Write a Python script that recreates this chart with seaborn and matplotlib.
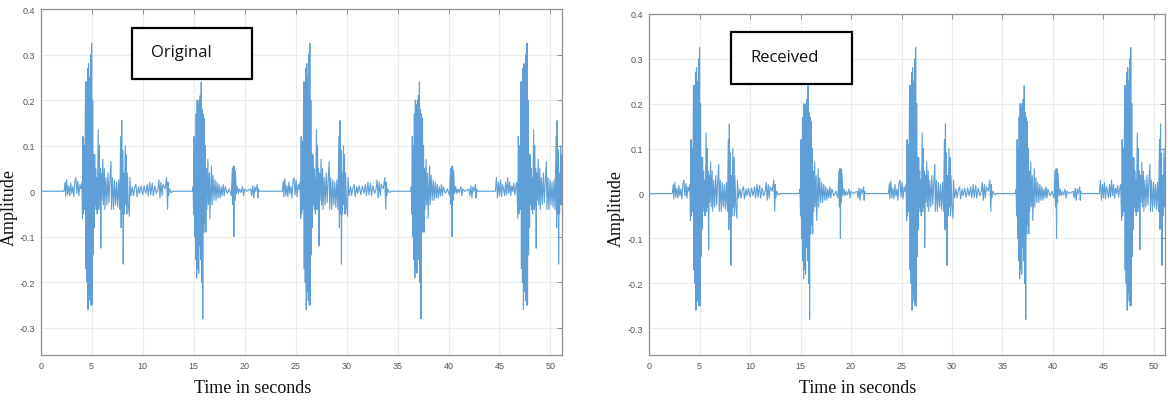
import numpy as np
import pandas as pd
import matplotlib
matplotlib.use("Agg")
import matplotlib.pyplot as plt
from matplotlib.patches import Rectangle
import seaborn as sns

# ---- signal, one list pair per heartbeat ----
beat1_t = [0.0, 2.2,
           2.3, 2.4, 2.45, 2.55, 2.65, 2.75, 2.85, 2.95, 3.05, 3.15, 3.25, 3.35, 3.45, 3.55, 3.65, 3.75, 3.85, 3.95, 4.05,
           4.1, 4.15, 4.2, 4.25, 4.3, 4.35, 4.4, 4.45, 4.5, 4.55, 4.6, 4.65, 4.7, 4.75, 4.8, 4.85, 4.9, 4.95, 5.0, 5.05,
           5.1, 5.15, 5.2, 5.25,
           5.3, 5.35, 5.4, 5.45, 5.5, 5.55, 5.65, 5.7, 5.75, 5.8, 5.85, 5.9, 5.95, 6.0, 6.1, 6.15, 6.25, 6.3, 6.4, 6.5,
           6.6, 6.7, 6.8, 6.9, 6.95, 7.05, 7.15, 7.25, 7.35, 7.45, 7.55, 7.65, 7.75,
           7.85, 7.9, 7.95, 8.0, 8.05, 8.1, 8.15, 8.2, 8.3, 8.35, 8.4, 8.45, 8.5, 8.6, 8.7, 8.75, 8.85,
           9.0, 9.1, 9.2, 9.35, 9.45, 9.6, 9.7, 9.85, 10.0, 10.15, 10.3, 10.45, 10.55, 10.7, 10.8, 10.95, 11.05, 11.2,
           11.35, 11.5, 11.6, 11.7, 11.8, 11.9, 12.0, 12.2, 12.35, 12.45, 12.5, 12.55, 12.65, 12.8, 13.0, 14.9]
beat1_amp = [0.0, 0.0,
             0.0, 0.02, -0.012, 0.025, -0.008, 0.012, -0.01, 0.018, -0.005, 0.01, -0.012, 0.02, 0.03, -0.005, 0.022,
             -0.01, 0.015, 0.005, 0.02,
             -0.06, 0.12, -0.05, 0.1, -0.04, 0.06, 0.24, -0.17, 0.24, -0.2, 0.27, -0.26, 0.28, -0.22, 0.25, -0.24, 0.3,
             -0.25, 0.325, -0.25, 0.2, -0.14, 0.08, -0.08,
             0.08, -0.03, 0.05, -0.04, 0.03, -0.05, 0.135, -0.04, 0.1, -0.03, 0.05, -0.125, 0.04, -0.02, 0.07, -0.03,
             0.05, -0.04, 0.03, -0.03, 0.04, -0.025, 0.03, 0.065, -0.04, 0.03, -0.04, 0.025, -0.03, 0.02, -0.035, 0.025,
             -0.04,
             0.12, -0.08, 0.155, -0.05, 0.09, -0.16, 0.04, -0.05, 0.1, -0.03, 0.08, -0.05, 0.04, -0.03, -0.055, 0.03,
             -0.01,
             0.01, -0.01, 0.005, 0.015, -0.012, 0.01, -0.005, 0.012, -0.008, 0.012, -0.005, 0.015, -0.01, 0.02, -0.008,
             0.018, -0.01, 0.012, -0.005, 0.005, 0.025, -0.015, 0.02, -0.01, 0.015, 0.005, 0.03, -0.04, 0.02, -0.01,
             0.005, -0.003, 0.0, 0.0]

beat2_t = [14.95, 15.0, 15.05, 15.1, 15.15, 15.2, 15.25, 15.3, 15.35, 15.4, 15.45, 15.5, 15.55, 15.6, 15.65, 15.7,
           15.75, 15.8, 15.85, 15.9, 15.95, 16.0, 16.05, 16.1, 16.15, 16.2, 16.25, 16.3,
           16.4, 16.45, 16.55, 16.6, 16.7, 16.75, 16.8, 16.9, 17.0, 17.1, 17.2, 17.3, 17.4, 17.5, 17.6, 17.7, 17.8,
           17.9, 18.0, 18.1, 18.3, 18.5, 18.7, 18.8, 18.85, 18.9, 18.95, 19.0, 19.05, 19.1, 19.2, 19.3, 19.4, 19.5,
           19.65, 19.8, 19.9, 20.0, 20.2, 20.6, 20.7, 20.8, 20.9, 21.0, 21.1, 21.25, 21.3, 21.35, 21.45, 23.55]
beat2_amp = [0.01, -0.05, 0.12, -0.1, 0.1, -0.15, 0.17, -0.19, 0.2, -0.17, 0.19, -0.18, 0.2, -0.12, 0.21, -0.15,
             0.24, -0.2, 0.18, -0.28, 0.17, -0.09, 0.16, -0.07, 0.1, -0.09, 0.05, -0.04,
             0.07, -0.03, 0.04, -0.06, 0.02, 0.055, -0.03, 0.035, -0.02, 0.025, -0.02, 0.02, -0.015, 0.015, -0.015,
             0.01, -0.01, 0.015, -0.01, 0.01, -0.005, 0.005, -0.01, 0.05, -0.03, 0.055, -0.1, 0.055, -0.02, 0.045,
             -0.005, 0.01, -0.005, 0.005, -0.003, 0.01, -0.01, 0.005, 0.0, 0.005, -0.01, 0.012, -0.015, 0.01, 0.0,
             0.015, -0.015, 0.005, 0.0, 0.0]

beat3_t = [23.7, 23.8, 23.85, 23.95, 24.05, 24.15, 24.25, 24.35, 24.45, 24.55, 24.65, 24.75, 24.85, 24.95, 25.05,
           25.15, 25.25, 25.35, 25.45,
           25.5, 25.55, 25.6, 25.65, 25.7, 25.75, 25.8, 25.85, 25.9, 25.95, 26.0, 26.05, 26.1, 26.15, 26.2, 26.25,
           26.3, 26.35, 26.4, 26.45, 26.5, 26.55, 26.6, 26.65,
           26.7, 26.75, 26.8, 26.85, 26.9, 26.95, 27.05, 27.1, 27.15, 27.2, 27.25, 27.3, 27.35, 27.4, 27.5, 27.55,
           27.65, 27.7, 27.8, 27.9, 28.0, 28.1, 28.2, 28.3, 28.35, 28.45, 28.55, 28.65, 28.75, 28.85, 28.95, 29.05,
           29.15,
           29.25, 29.3, 29.35, 29.4, 29.45, 29.5, 29.55, 29.6, 29.7, 29.75, 29.8, 29.85, 29.9, 30.0, 30.1, 30.15, 30.25,
           30.4, 30.5, 30.6, 30.75, 30.85, 31.0, 31.1, 31.25, 31.4, 31.55, 31.7, 31.85, 31.95, 32.1, 32.2, 32.35,
           32.45, 32.6, 32.75, 32.9, 33.0, 33.1, 33.2, 33.3, 33.4, 33.6, 33.75, 33.85, 33.9, 33.95, 34.05, 34.2, 34.4,
           36.3]
beat3_amp = [0.0, 0.022, -0.012, 0.028, -0.01, 0.012, -0.012, 0.02, -0.006, 0.01, -0.015, 0.022, 0.03, -0.008,
             0.025, -0.012, 0.015, 0.004, 0.02,
             -0.06, 0.12, -0.05, 0.11, -0.04, 0.06, 0.24, -0.17, 0.24, -0.2, 0.27, -0.26, 0.28, -0.22, 0.25, -0.24,
             0.3, -0.25, 0.325, -0.25, 0.2, -0.14, 0.08, -0.08,
             0.08, -0.03, 0.05, -0.04, 0.03, -0.05, 0.135, -0.04, 0.1, -0.03, 0.05, -0.12, 0.04, -0.02, 0.07, -0.03,
             0.05, -0.04, 0.03, -0.03, 0.04, -0.025, 0.03, 0.065, -0.04, 0.03, -0.04, 0.025, -0.03, 0.02, -0.035,
             0.025, -0.04,
             0.12, -0.08, 0.155, -0.05, 0.09, -0.16, 0.04, -0.05, 0.1, -0.03, 0.08, -0.05, 0.04, -0.03, -0.055, 0.03,
             -0.01,
             0.01, -0.01, 0.005, 0.015, -0.012, 0.01, -0.005, 0.012, -0.008, 0.012, -0.005, 0.015, -0.01, 0.02,
             -0.008, 0.018, -0.01, 0.012, -0.005, 0.005, 0.025, -0.015, 0.02, -0.01, 0.015, 0.005, 0.03, -0.04, 0.02,
             -0.01, 0.005, -0.003, 0.0, 0.0]

beat4_t = [36.35, 36.4, 36.45, 36.5, 36.55, 36.6, 36.65, 36.7, 36.75, 36.8, 36.85, 36.9, 36.95, 37.0, 37.05, 37.1,
           37.15, 37.2, 37.25, 37.3, 37.35, 37.4, 37.45, 37.5, 37.55, 37.6, 37.65, 37.7,
           37.8, 37.85, 37.95, 38.0, 38.1, 38.15, 38.2, 38.3, 38.4, 38.5, 38.6, 38.7, 38.8, 38.9, 39.0, 39.1, 39.2,
           39.3, 39.4, 39.5, 39.7, 39.9, 40.1, 40.2, 40.25, 40.3, 40.35, 40.4, 40.45, 40.5, 40.6, 40.7, 40.8, 40.9,
           41.05, 41.2, 41.3, 41.4, 41.6, 42.0, 42.1, 42.2, 42.3, 42.4, 42.5, 42.65, 42.7, 42.75, 42.85]
beat4_amp = [0.01, -0.05, 0.12, -0.1, 0.1, -0.15, 0.17, -0.19, 0.2, -0.17, 0.19, -0.18, 0.2, -0.12, 0.21, -0.15,
             0.24, -0.2, 0.18, -0.28, 0.17, -0.09, 0.16, -0.07, 0.1, -0.09, 0.05, -0.04,
             0.07, -0.03, 0.04, -0.06, 0.02, 0.055, -0.03, 0.035, -0.02, 0.025, -0.02, 0.02, -0.015, 0.015, -0.015,
             0.01, -0.01, 0.015, -0.01, 0.01, -0.005, 0.005, -0.01, 0.05, -0.03, 0.055, -0.1, 0.055, -0.02, 0.045,
             -0.005, 0.01, -0.005, 0.005, -0.003, 0.01, -0.01, 0.005, 0.0, 0.005, -0.01, 0.012, -0.015, 0.01, 0.0,
             0.015, -0.015, 0.005, 0.0]

beat5_t = [44.6, 44.7, 44.8, 44.9, 45.0, 45.1, 45.2, 45.3, 45.4, 45.5, 45.6, 45.7, 45.8, 45.9, 46.0, 46.1, 46.2,
           46.3, 46.4, 46.5, 46.6, 46.7,
           46.8, 46.85, 46.9, 46.95, 47.0, 47.05, 47.1, 47.15, 47.2, 47.25, 47.3, 47.35, 47.4, 47.45, 47.5, 47.55,
           47.6, 47.65, 47.7, 47.75, 47.8, 47.85, 47.9, 47.95,
           48.0, 48.05, 48.1, 48.15, 48.2, 48.25, 48.35, 48.4, 48.45, 48.5, 48.55, 48.6, 48.65, 48.7, 48.8, 48.85,
           48.95, 49.0, 49.1, 49.2, 49.3, 49.4, 49.5, 49.6, 49.65, 49.75, 49.85, 49.95, 50.05, 50.15, 50.25, 50.35,
           50.45,
           50.55, 50.6, 50.65, 50.7, 50.75, 50.8, 50.85, 50.9, 51.0, 51.05, 51.1]
beat5_amp = [0.0, 0.03, -0.015, 0.02, -0.01, 0.025, -0.012, 0.015, 0.005, -0.01, 0.02, -0.008, 0.03, -0.005, 0.02,
             -0.01, 0.012, 0.0, 0.018, -0.008, 0.01, 0.02,
             -0.06, 0.12, -0.05, 0.1, -0.04, 0.06, 0.24, -0.17, 0.24, -0.2, 0.27, -0.26, 0.28, -0.22, 0.25, -0.24,
             0.3, -0.25, 0.325, -0.25, 0.2, -0.14, 0.08, -0.08,
             0.08, -0.03, 0.05, -0.04, 0.03, -0.05, 0.135, -0.04, 0.1, -0.03, 0.05, -0.125, 0.04, -0.02, 0.07, -0.03,
             0.05, -0.04, 0.03, -0.03, 0.04, -0.025, 0.03, 0.065, -0.04, 0.03, -0.04, 0.025, -0.03, 0.02, -0.035,
             0.025, -0.04,
             0.12, -0.08, 0.155, -0.05, 0.09, -0.16, 0.04, -0.05, 0.1, -0.03, 0.08]

x_ticks = [0, 5, 10, 15, 20, 25, 30, 35, 40, 45, 50]
y_ticks = [-0.3, -0.2, -0.1, 0, 0.1, 0.2, 0.3, 0.4]
y_tick_labels = ["-0.3", "-0.2", "-0.1", "0", "0.1", "0.2", "0.3", "0.4"]
panel_titles = ["Original", "Received"]

LINE = "#5d9fd6"
GRID = "#ececec"
SPINE = "#8f8f8f"


def build_signal():
    t = beat1_t + beat2_t + beat3_t + beat4_t + beat5_t
    a = beat1_amp + beat2_amp + beat3_amp + beat4_amp + beat5_amp
    return pd.DataFrame({"time": t, "amplitude": a})


def draw_panel(ax, data, title, box, text_xy, xlab_xy, ylab_xy):
    sns.lineplot(data=data, x="time", y="amplitude", ax=ax, estimator=None, sort=False,
                 color=LINE, linewidth=0.8)
    ax.set_xlim(0, 51.1)
    ax.set_ylim(-0.36, 0.4)
    ax.set_xticks(x_ticks)
    ax.set_xticklabels([str(v) for v in x_ticks])
    ax.set_yticks(y_ticks)
    ax.set_yticklabels(y_tick_labels)
    ax.grid(True, color=GRID, linewidth=0.8)
    ax.set_axisbelow(True)
    for s in ax.spines.values():
        s.set_color(SPINE)
        s.set_linewidth(0.9)
    ax.tick_params(direction="in", top=True, right=True, length=3.5, width=0.7, color=SPINE,
                   labelsize=6.5, labelcolor="#555555", pad=4)
    for lab in ax.get_xticklabels() + ax.get_yticklabels():
        lab.set_family("Liberation Sans")

    ax.set_xlabel("Time in seconds", family="Liberation Serif", fontsize=13, color="#111111")
    ax.set_ylabel("Amplitude", family="Liberation Serif", fontsize=13, color="#111111")
    ax.xaxis.set_label_coords(*xlab_xy)
    ax.yaxis.set_label_coords(*ylab_xy)

    x0, y0, x1, y1 = box
    ax.add_patch(Rectangle((x0, y0), x1 - x0, y1 - y0, transform=ax.transAxes,
                           facecolor="white", edgecolor="black", linewidth=1.6, zorder=5, clip_on=False))
    ax.text(text_xy[0], text_xy[1], title, transform=ax.transAxes, ha="left", va="center",
            family="Open Sans", fontsize=12, color="#111111", zorder=6)


if __name__ == "__main__":
    sns.set_theme(style="whitegrid")
    signal = build_signal()
    # the received trace is visually identical to the original one
    received = signal.copy()

    fig = plt.figure(figsize=(11.68, 4.02), dpi=100)
    fig.patch.set_facecolor("white")
    ax1 = fig.add_axes([0.0348, 0.114, 0.4461, 0.861])
    ax2 = fig.add_axes([0.5557, 0.114, 0.4418, 0.849])

    draw_panel(ax1, signal, panel_titles[0], (0.1747, 0.798, 0.406, 0.944), (0.2117, 0.876),
               (0.4065, -0.07), (-0.044, 0.43))
    draw_panel(ax2, received, panel_titles[1], (0.1583, 0.795, 0.3928, 0.946), (0.197, 0.874),
               (0.404, -0.071), (-0.047, 0.434))

    fig.savefig("out.png", dpi=100, facecolor="white")
